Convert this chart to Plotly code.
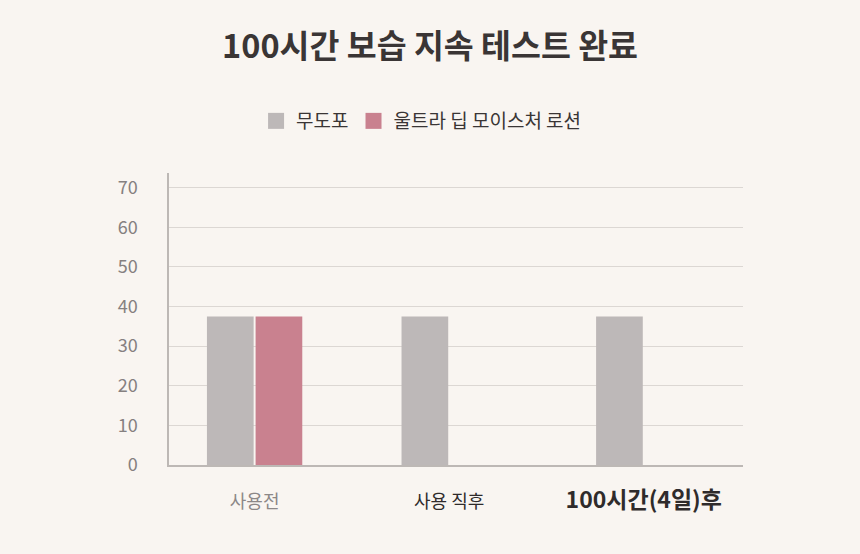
import plotly.graph_objects as go

categories = ["사용전", "사용 직후", "100시간(4일)후"]
untreated = [37.5, 37.5, 37.5]
lotion = [37.5, None, None]
series_names = ["무도포", "울트라 딥 모이스처 로션"]
series_colors = ["#bdb8b8", "#c9818f"]
y_ticks = [0, 10, 20, 30, 40, 50, 60, 70]
tick_text = [
    "<span style='color:#8c8787;font-size:18px'>사용전</span>",
    "<span style='color:#2f2b2b;font-size:18px'>사용 직후</span>",
    "<b><span style='color:#2f2b2b;font-size:23px'>100시간(4일)후</span></b>",
]

FONT = "Noto Sans CJK KR"
BG = "#f9f5f1"

fig = go.Figure()
fig.add_trace(go.Bar(x=categories, y=untreated, name=series_names[0], showlegend=False,
                     marker=dict(color=series_colors[0], line=dict(width=0))))
fig.add_trace(go.Bar(x=categories, y=lotion, name=series_names[1], showlegend=False,
                     marker=dict(color=series_colors[1], line=dict(width=0))))
# legend entries with larger square swatches
for name, col in zip(series_names, series_colors):
    fig.add_trace(go.Scatter(x=[None], y=[None], mode="markers", name=name,
                             marker=dict(symbol="square", size=18, color=col)))

fig.update_layout(
    width=860, height=554,
    paper_bgcolor=BG, plot_bgcolor=BG,
    font=dict(family=FONT, color="#555"),
    title=dict(text="<b>100시간 보습 지속 테스트 완료</b>", x=0.5, xanchor="center",
               y=0.915, yanchor="middle",
               font=dict(family=FONT, size=32.5, color="#3a3535")),
    legend=dict(orientation="h", x=0.44, xanchor="center", y=1.178, yanchor="middle",
                font=dict(family=FONT, size=19, color="#3a3535"),
                itemwidth=30, bgcolor="rgba(0,0,0,0)"),
    barmode="group", bargap=0.5, bargroupgap=0.04,
    margin=dict(l=169, r=117, t=173, b=89),
    xaxis=dict(tickmode="array", tickvals=categories, ticktext=tick_text,
               range=[-0.44, 2.51], showgrid=False, showline=True,
               linecolor="#bdb8b5", linewidth=1.5, ticks="",
               ticklabelstandoff=27, tickfont=dict(family=FONT)),
    yaxis=dict(range=[0, 73.7], tickvals=y_ticks, showgrid=True,
               gridcolor="#dcd7d3", gridwidth=1, showline=True,
               linecolor="#bdb8b5", linewidth=1.5, zeroline=False,
               ticks="", ticklabelstandoff=26,
               tickfont=dict(family=FONT, size=18, color="#858080")),
)

fig.write_html("out.html")
